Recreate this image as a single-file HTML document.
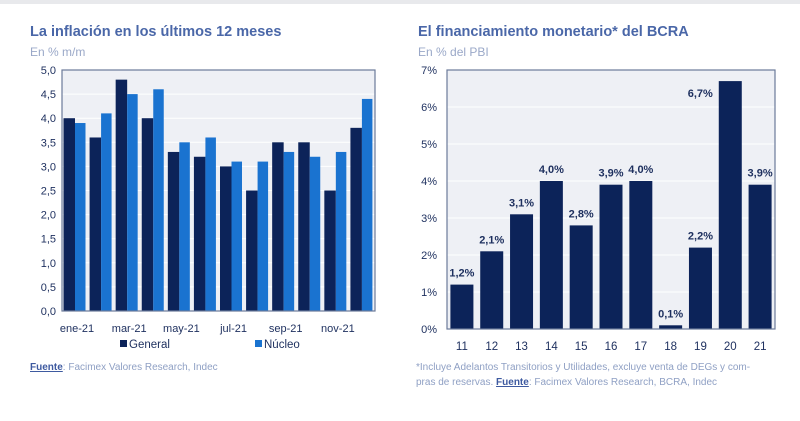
<!DOCTYPE html>
<html><head><meta charset="utf-8"><style>
body{margin:0;width:800px;height:416px;background:#fff;font-family:"Liberation Sans",sans-serif;overflow:hidden}
svg text{font-family:"Liberation Sans",sans-serif}
</style></head><body>
<svg width="800" height="416" id="s">
<rect x="0" y="0" width="800" height="4" fill="#e8e9ec"/>
<text x="30" y="36" font-size="14.5" font-weight="bold" fill="#4a67a8">La inflación en los últimos 12 meses</text>
<text x="30" y="56" font-size="12" fill="#9aa8c8">En % m/m</text>
<text x="418" y="36" font-size="14.5" font-weight="bold" fill="#4a67a8">El financiamiento monetario* del BCRA</text>
<text x="418" y="56" font-size="12" fill="#9aa8c8">En % del PBI</text>
<g id="left"></g><g id="right"></g>
<rect x="120" y="340" width="7" height="7" fill="#0c2359"/>
<text x="129" y="348" font-size="11.5" fill="#1d2f5e">General</text>
<rect x="255" y="340" width="7" height="7" fill="#1a73d0"/>
<text x="264" y="348" font-size="11.5" fill="#1d2f5e">Núcleo</text>
<text x="30" y="370" font-size="10" fill="#8fa0c4"><tspan text-decoration="underline" fill="#3e5aa0" font-weight="bold">Fuente</tspan>: Facimex Valores Research, Indec</text>
<text x="416" y="370" font-size="10" fill="#8fa0c4">*Incluye Adelantos Transitorios y Utilidades, excluye venta de DEGs y com-</text>
<text x="416" y="385" font-size="10" fill="#8fa0c4">pras de reservas. <tspan text-decoration="underline" fill="#3e5aa0" font-weight="bold">Fuente</tspan>: Facimex Valores Research, BCRA, Indec</text>
</svg>
<script>
const months=["ene-21","feb-21","mar-21","abr-21","may-21","jun-21","jul-21","ago-21","sep-21","oct-21","nov-21","dic-21"];
const general=[4.0,3.6,4.8,4.0,3.3,3.2,3.0,2.5,3.5,3.5,2.5,3.8];
const nucleo=[3.9,4.1,4.5,4.6,3.5,3.6,3.1,3.1,3.3,3.2,3.3,4.4];
const leftTicks=["0,0","0,5","1,0","1,5","2,0","2,5","3,0","3,5","4,0","4,5","5,0"];
const years=["11","12","13","14","15","16","17","18","19","20","21"];
const financ=[1.2,2.1,3.1,4.0,2.8,3.9,4.0,0.1,2.2,6.7,3.9];
const finLabels=["1,2%","2,1%","3,1%","4,0%","2,8%","3,9%","4,0%","0,1%","2,2%","6,7%","3,9%"];
const rightTicks=["0%","1%","2%","3%","4%","5%","6%","7%"];
const NS="http://www.w3.org/2000/svg";
function mk(p,t,a){const e=document.createElementNS(NS,t);for(const k in a)e.setAttribute(k,a[k]);p.appendChild(e);return e;}
// left
const L=document.getElementById('left');
const lx0=62,lx1=375,ly0=311,ly1=70;
const ly=v=>ly0-(v/5)*(ly0-ly1);
const bg=mk(L,'rect',{x:lx0,y:ly1,width:lx1-lx0,height:ly0-ly1,fill:'#eef0f5'});

leftTicks.forEach((t,i)=>{const v=i*0.5;
 const g=mk(L,'line',{x1:lx0,x2:lx1,y1:ly(v),y2:ly(v),stroke:'#fff','stroke-width':1});
 
 const e=mk(L,'text',{x:lx0-6,y:ly(v)+4,'font-size':11,fill:'#1d2f5e','text-anchor':'end'});e.textContent=t;
 });
const gw=(lx1-lx0)/12;
months.forEach((m,i)=>{const x=lx0+i*gw+1.5;
 const a=mk(L,'rect',{x:x,y:ly(general[i]),width:11.5,height:ly0-ly(general[i]),fill:'#0c2359'});
 
 const b=mk(L,'rect',{x:x+11.5,y:ly(nucleo[i]),width:10.5,height:ly0-ly(nucleo[i]),fill:'#1a73d0'});
 
 if(i%2==0){const e=mk(L,'text',{x:lx0+i*gw+gw/2+2,y:332,'font-size':11,fill:'#1d2f5e','text-anchor':'middle'});e.textContent=m;
 }});
const lb=mk(L,'rect',{x:lx0,y:ly1,width:lx1-lx0,height:ly0-ly1,fill:'none',stroke:'#6b7a99','stroke-width':1.2});

// right
const R=document.getElementById('right');
const rx0=447,rx1=775,ry0=329,ry1=70;
const ry=v=>ry0-(v/7)*(ry0-ry1);
const bg2=mk(R,'rect',{x:rx0,y:ry1,width:rx1-rx0,height:ry0-ry1,fill:'#eef0f5'});

rightTicks.forEach((t,i)=>{
 const g=mk(R,'line',{x1:rx0,x2:rx1,y1:ry(i),y2:ry(i),stroke:'#fff','stroke-width':1});
 
 const e=mk(R,'text',{x:rx0-10,y:ry(i)+4,'font-size':11,fill:'#1d2f5e','text-anchor':'end'});e.textContent=t;
 });
const sw=(rx1-rx0)/11;
years.forEach((y,i)=>{const cx=rx0+i*sw+sw/2;
 const b=mk(R,'rect',{x:cx-11.5,y:ry(financ[i]),width:23,height:ry0-ry(financ[i]),fill:'#0c2359'});
 
 const lx=i==9?cx-30:cx;const lyy=i==9?ry(financ[i])+16:ry(financ[i])-8;
 const t=mk(R,'text',{x:lx,y:lyy,'font-size':11,'font-weight':'bold',fill:'#1d2f5e','text-anchor':'middle'});t.textContent=finLabels[i];
 
 const e=mk(R,'text',{x:cx,y:350,'font-size':11.5,fill:'#1d2f5e','text-anchor':'middle'});e.textContent=y;
 });
const rb=mk(R,'rect',{x:rx0,y:ry1,width:rx1-rx0,height:ry0-ry1,fill:'none',stroke:'#6b7a99','stroke-width':1.2});

</script>
</body></html>
